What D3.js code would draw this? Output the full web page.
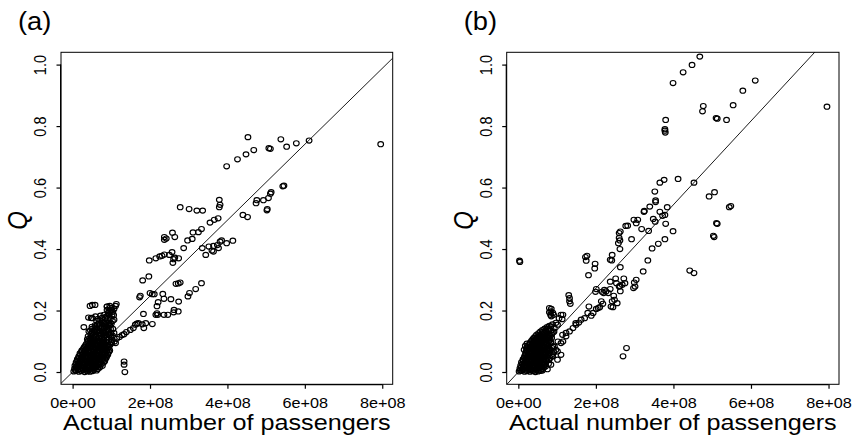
<!DOCTYPE html>
<html>
<head>
<meta charset="utf-8">
<script src="https://cdn.jsdelivr.net/npm/d3@7"></script>
<style>
  html, body { margin: 0; padding: 0; background: #fff; }
  svg { display: block; }
  text { font-family: "Liberation Sans", Arial, Helvetica, sans-serif; fill: #000; }
</style>
</head>
<body>
<svg id="chart" width="853" height="447"></svg>
<script>
// ---------------------------------------------------------------
// Data: each point is [actual passengers (millions), Q]
// ---------------------------------------------------------------
const panelLabels = ["(a)", "(b)"];
const xTitle = "Actual number of passengers";
const yTitle = "Q";

const xTicks = [0, 2e8, 4e8, 6e8, 8e8];
const xTickLabels = ["0e+00", "2e+08", "4e+08", "6e+08", "8e+08"];
const yTicks = [0, 0.2, 0.4, 0.6, 0.8, 1.0];
const yTickLabels = ["0.0", "0.2", "0.4", "0.6", "0.8", "1.0"];

// axis limits shared by both panels
const xLimits = [-3.0e7, 8.27e8];
const yLimits = [-0.04, 1.04];

// slope of the reference line Q = slope * passengers, per panel
const fitSlopes = [1.2346e-9, 1.3607e-9];

// panel (a): larger airports
const pointsA = [
  [453,0.764],[398,0.669],[426,0.692],[448,0.708],[468,0.722],[507,0.728],[511,0.726],[538,0.757],
  [553,0.733],[578,0.744],[611,0.753],[796,0.741],
  [546,0.606],[543,0.604],[513,0.585],[511,0.580],[506,0.566],[493,0.559],[476,0.559],[474,0.549],
  [503,0.530],[502,0.526],[440,0.511],[452,0.504],
  [379,0.560],[381,0.544],[379,0.536],[376,0.500],[366,0.495],[355,0.486],[333,0.465],[325,0.455],
  [311,0.454],[278,0.536],[301,0.530],[321,0.525],[336,0.525],
  [309,0.433],[297,0.428],[287,0.403],[335,0.403],[344,0.381],[352,0.408],[364,0.410],[374,0.413],
  [381,0.424],[385,0.428],[398,0.419],[414,0.427],[377,0.403],[360,0.395],[364,0.392],
  [258,0.453],[237,0.439],[242,0.434],[237,0.430],[264,0.439],
  [257,0.390],[250,0.381],[237,0.382],[231,0.378],[225,0.376],[261,0.367],[264,0.372],[259,0.355],
  [274,0.370],[215,0.370],[198,0.363],
  [197,0.311],[181,0.298],[175,0.248],[173,0.243],[200,0.257],[206,0.253],[211,0.253],[233,0.254],
  [273,0.288],[278,0.291],[267,0.287],[333,0.289],[318,0.270],[302,0.257],[298,0.246],
  [236,0.238],[254,0.237],[221,0.227],[218,0.214],[246,0.186],[236,0.186],[274,0.229],[262,0.202],
  [261,0.194],[273,0.197],
  [220,0.186],[215,0.186],[218,0.191],[206,0.156],[183,0.189],[184,0.143],[189,0.159],[180,0.155],
  [166,0.157],[157,0.143],[149,0.137],[162,0.154],[170,0.159],
  [139,0.130],[133,0.123],[128,0.120],[121,0.114],[114,0.108],[108,0.099],[101,0.094],[97,0.089],
  [133,0.034],[133,0.024],[135,0.000],
  [113,0.221],[100,0.202],[106,0.185],[89,0.213],[97,0.209]
];

// panel (a): small airports, crowded near the origin
const clusterA = [
  [3,0.002],[9,0.004],[16,0.001],[23,0.003],[31,0.000],[38,0.002],[45,0.001],[52,0.003],
  [7,0.006],[14,0.007],[20,0.005],[27,0.007],[35,0.006],[42,0.007],[49,0.005],[56,0.007],[62,0.005],
  [5,0.011],[12,0.013],[19,0.010],[27,0.012],[34,0.010],[42,0.012],[49,0.011],[57,0.013],[65,0.010],
  [9,0.016],[16,0.017],[24,0.015],[31,0.017],[39,0.016],[46,0.015],[54,0.017],[62,0.016],[70,0.015],
  [6,0.021],[14,0.022],[21,0.020],[29,0.023],[37,0.021],[45,0.020],[53,0.022],[61,0.021],[69,0.023],[77,0.020],
  [10,0.026],[18,0.027],[26,0.025],[34,0.026],[42,0.027],[50,0.025],[58,0.026],[66,0.027],[74,0.025],
  [9,0.031],[16,0.030],[24,0.032],[32,0.031],[40,0.030],[48,0.033],[56,0.031],[64,0.030],[72,0.032],[80,0.031],
  [13,0.036],[21,0.035],[29,0.037],[37,0.036],[45,0.035],[53,0.037],[61,0.036],[69,0.035],[77,0.037],[83,0.035],
  [12,0.041],[20,0.040],[28,0.042],[36,0.041],[44,0.040],[52,0.043],[60,0.041],[68,0.040],[76,0.042],[84,0.041],
  [15,0.046],[23,0.045],[31,0.047],[39,0.046],[47,0.045],[55,0.047],[63,0.046],[71,0.045],[79,0.047],[87,0.046],
  [16,0.051],[24,0.050],[32,0.052],[40,0.051],[48,0.050],[56,0.052],[64,0.051],[72,0.050],[80,0.053],[88,0.051],
  [20,0.056],[28,0.055],[36,0.057],[44,0.056],[52,0.055],[60,0.057],[68,0.056],[76,0.055],[84,0.057],[91,0.056],
  [19,0.061],[27,0.060],[35,0.062],[43,0.061],[51,0.060],[59,0.062],[67,0.061],[75,0.060],[83,0.062],[91,0.061],
  [23,0.066],[31,0.065],[39,0.067],[47,0.066],[55,0.065],[63,0.067],[71,0.066],[79,0.065],[87,0.067],[94,0.066],
  [24,0.070],[32,0.072],[40,0.071],[48,0.070],[56,0.072],[64,0.071],[72,0.070],[80,0.072],[88,0.071],[96,0.070],
  [28,0.076],[36,0.075],[44,0.077],[52,0.076],[60,0.075],[68,0.077],[76,0.076],[84,0.075],[92,0.077],
  [30,0.081],[38,0.080],[46,0.082],[54,0.081],[62,0.080],[70,0.082],[78,0.081],[86,0.080],[94,0.082],
  [33,0.086],[41,0.085],[49,0.087],[57,0.086],[65,0.085],[73,0.087],[81,0.086],[89,0.085],
  [35,0.091],[43,0.090],[51,0.092],[59,0.091],[67,0.090],[75,0.092],[83,0.091],[91,0.090],
  [39,0.096],[47,0.095],[55,0.097],[63,0.096],[71,0.095],[79,0.097],[87,0.096],
  [40,0.101],[48,0.100],[56,0.102],[64,0.101],[72,0.100],[80,0.102],
  [45,0.215],[51,0.218],[58,0.218],[89,0.213],[96,0.215],[102,0.209],[111,0.215],
  [89,0.202],[94,0.197],[100,0.202],[104,0.196],[92,0.192],[98,0.196],[107,0.205],
  [41,0.177],[48,0.176],[51,0.175],[59,0.181],[72,0.183],[81,0.186],[85,0.175],[94,0.186],[98,0.175],
  [102,0.186],[107,0.170],[66,0.173],[76,0.176],[90,0.171],[103,0.166],[88,0.181],
  [62,0.166],[70,0.168],[78,0.165],[85,0.164],[94,0.159],[100,0.157],
  [64,0.155],[76,0.154],[84,0.156],[92,0.152],[58,0.152],[68,0.158],[80,0.160],[88,0.160],[96,0.153],
  [29,0.146],[50,0.147],[58,0.145],[68,0.148],[81,0.143],[89,0.137],[98,0.140],
  [50,0.140],[62,0.141],[72,0.142],[76,0.147],[86,0.147],[93,0.145],[104,0.140],
  [46,0.135],[55,0.134],[64,0.136],[72,0.133],[80,0.135],[94,0.132],
  [42,0.132],[51,0.127],[59,0.121],[67,0.126],[75,0.124],[83,0.125],[91,0.123],[107,0.127],
  [47,0.124],[55,0.129],[63,0.131],[71,0.128],[79,0.129],[87,0.130],[99,0.126],
  [40,0.116],[48,0.115],[55,0.110],[64,0.105],[72,0.099],[68,0.116],[76,0.110],[80,0.114],[88,0.113],[98,0.116],
  [44,0.110],[52,0.112],[60,0.114],[84,0.119],[95,0.121],[103,0.118],
  [38,0.106],[46,0.104],[56,0.106],[80,0.105],[88,0.104],[102,0.105],
  [51,0.094],[81,0.089],[111,0.094],[100,0.098]
];

// panel (b): larger airports
const pointsB = [
  [468,1.026],[448,0.999],[425,0.975],[399,0.940],[611,0.948],[579,0.915],[554,0.868],[537,0.820],
  [510,0.826],[513,0.824],[477,0.865],[475,0.848],[796,0.863],
  [380,0.820],[378,0.790],[379,0.779],[378,0.785],
  [412,0.628],[453,0.616],[376,0.625],[365,0.616],[492,0.571],[506,0.585],[544,0.536],[548,0.540],
  [511,0.484],[513,0.482],[503,0.443],[505,0.439],[442,0.330],[453,0.322],[399,0.458],
  [384,0.536],[378,0.511],[372,0.508],[365,0.521],[380,0.482],[378,0.432],[361,0.417],[345,0.402],[334,0.363],
  [352,0.587],[354,0.558],[354,0.553],[339,0.538],[325,0.524],[324,0.521],[308,0.495],[298,0.495],
  [304,0.484],[318,0.465],[336,0.459],[348,0.498],[353,0.489],[282,0.476],[277,0.475],[263,0.457],[260,0.452],
  [292,0.432],[262,0.428],[260,0.436],[258,0.419],[262,0.400],[242,0.381],[237,0.365],[241,0.363],[263,0.341],
  [175,0.362],[177,0.378],[173,0.374],[198,0.352],[197,0.337],[181,0.315],
  [322,0.327],[304,0.300],[299,0.291],[301,0.278],[297,0.273],[272,0.304],[251,0.304],[253,0.289],[237,0.294],
  [275,0.289],[268,0.284],[260,0.278],
  [237,0.270],[246,0.248],[232,0.257],[263,0.263],[262,0.280],[222,0.267],[226,0.262],
  [201,0.270],[199,0.261],[216,0.261],[220,0.257],
  [130,0.250],[132,0.240],[132,0.230],[134,0.222],
  [242,0.230],[239,0.213],[244,0.211],[255,0.224],[248,0.235],
  [214,0.230],[218,0.222],[210,0.211],[206,0.208],[182,0.213],[201,0.205],[193,0.192],[188,0.183],
  [171,0.175],[162,0.170],[156,0.161],[149,0.154],[141,0.143],[132,0.132],[123,0.116],[115,0.099],
  [148,0.159],[179,0.192],[114,0.121],
  [123,0.127],[102,0.099],[110,0.094],[89,0.083],[97,0.072],
  [115,0.186],[113,0.172],[91,0.186],[85,0.181],[80,0.194],[85,0.205],
  [80,0.208],[84,0.197],[83,0.186],[89,0.192],[110,0.186],[105,0.175],
  [270,0.051],[279,0.078],[3,0.362],[4,0.358]
];

// panel (b): small airports, crowded near the origin
const clusterB = [
  [2,0.002],[9,0.004],[16,0.001],[23,0.003],[30,0.001],[37,0.003],[44,0.000],[51,0.002],[58,0.004],
  [5,0.006],[12,0.007],[19,0.005],[26,0.007],[33,0.006],[40,0.005],[47,0.007],[54,0.006],[62,0.005],
  [4,0.012],[11,0.010],[18,0.013],[26,0.011],[33,0.010],[40,0.012],[48,0.011],[55,0.013],[62,0.010],[75,0.009],
  [8,0.016],[15,0.017],[22,0.015],[30,0.017],[37,0.016],[44,0.015],[51,0.017],[59,0.016],[66,0.015],[70,0.018],
  [6,0.021],[13,0.022],[21,0.020],[28,0.023],[36,0.021],[43,0.020],[51,0.022],[58,0.021],[66,0.023],
  [10,0.026],[17,0.027],[25,0.025],[32,0.026],[40,0.027],[47,0.025],[55,0.026],[62,0.027],[70,0.025],[78,0.027],
  [8,0.031],[16,0.030],[23,0.032],[31,0.031],[38,0.030],[46,0.033],[53,0.031],[61,0.030],[68,0.032],[84,0.024],
  [12,0.036],[20,0.035],[27,0.037],[35,0.036],[42,0.035],[50,0.037],[57,0.036],[65,0.035],[72,0.037],
  [12,0.041],[19,0.040],[27,0.042],[34,0.041],[42,0.040],[49,0.043],[57,0.041],[64,0.040],[72,0.042],[79,0.040],
  [15,0.046],[22,0.045],[30,0.047],[37,0.046],[45,0.045],[52,0.047],[60,0.046],[67,0.045],[75,0.047],[82,0.046],
  [16,0.051],[23,0.050],[31,0.052],[38,0.051],[46,0.050],[53,0.052],[61,0.051],[68,0.050],[76,0.053],[88,0.051],
  [18,0.056],[25,0.055],[33,0.057],[40,0.056],[48,0.055],[55,0.057],[63,0.056],[70,0.055],[78,0.057],[86,0.056],
  [19,0.061],[26,0.060],[34,0.062],[41,0.061],[49,0.060],[56,0.062],[64,0.061],[71,0.060],[79,0.062],
  [20,0.066],[27,0.065],[35,0.067],[42,0.066],[50,0.065],[57,0.067],[65,0.066],[72,0.065],[80,0.067],[92,0.064],
  [15,0.072],[22,0.071],[29,0.070],[37,0.072],[44,0.071],[52,0.070],[59,0.072],[67,0.071],[74,0.070],[82,0.072],[101,0.067],
  [21,0.077],[28,0.076],[35,0.075],[43,0.077],[50,0.076],[58,0.075],[65,0.077],[73,0.076],[80,0.075],[87,0.078],
  [18,0.085],[24,0.081],[31,0.080],[39,0.082],[46,0.081],[54,0.080],[61,0.082],[69,0.081],[76,0.080],[93,0.083],
  [26,0.087],[33,0.086],[40,0.085],[48,0.087],[55,0.086],[63,0.085],[70,0.087],[78,0.086],
  [22,0.092],[29,0.091],[36,0.090],[44,0.092],[51,0.091],[59,0.090],[66,0.092],[74,0.091],[84,0.094],
  [31,0.096],[38,0.095],[45,0.097],[53,0.096],[60,0.095],[68,0.097],[75,0.096],[83,0.098],
  [34,0.101],[41,0.100],[49,0.102],[56,0.101],[64,0.100],[71,0.102],[79,0.101],
  [37,0.106],[44,0.105],[52,0.107],[59,0.106],[67,0.105],[74,0.107],[82,0.106],
  [40,0.111],[47,0.110],[55,0.112],[62,0.111],[70,0.110],[78,0.112],[86,0.111],
  [44,0.116],[51,0.115],[58,0.117],[66,0.116],[74,0.115],[82,0.117],
  [47,0.121],[54,0.120],[62,0.122],[70,0.121],[78,0.120],[86,0.122],
  [52,0.126],[60,0.125],[67,0.127],[75,0.126],[88,0.127],
  [57,0.131],[64,0.130],[72,0.132],[84,0.135],[92,0.131],
  [62,0.136],[70,0.135],[80,0.138],
  [68,0.141],[76,0.140],[93,0.143],[74,0.146],[84,0.148],
  [80,0.150],[88,0.155],[97,0.160],[101,0.154],
  [110,0.056],[101,0.040],[88,0.051],[79,0.040]
];

// ---------------------------------------------------------------
// Drawing
// ---------------------------------------------------------------
const MILLION = 1e6;
const TEXT_STRETCH = 1.12;      // glyphs are set slightly wide
const FONT = '"Liberation Sans", Arial, Helvetica, sans-serif';

const plotTop = 52.3, plotBottom = 384.3;
const panels = [
  { label: panelLabels[0], points: pointsA.concat(clusterA), slope: fitSlopes[0], left: 61,    right: 392.7 },
  { label: panelLabels[1], points: pointsB.concat(clusterB), slope: fitSlopes[1], left: 506.7, right: 839   }
];

const svg = d3.select("#chart");
const defs = svg.append("defs");

panels.forEach((p, i) => {
  const x = d3.scaleLinear().domain(xLimits).range([p.left, p.right]);
  const y = d3.scaleLinear().domain(yLimits).range([plotBottom, plotTop]);
  const g = svg.append("g");

  const clipId = "plot-clip-" + i;
  defs.append("clipPath").attr("id", clipId)
    .append("rect")
    .attr("x", p.left).attr("y", plotTop)
    .attr("width", p.right - p.left).attr("height", plotBottom - plotTop);

  // reference line through the origin
  g.append("path")
    .datum(xLimits)
    .attr("clip-path", `url(#${clipId})`)
    .attr("d", d3.line().x(d => x(d)).y(d => y(d * p.slope)))
    .attr("fill", "none")
    .attr("stroke", "#000")
    .attr("stroke-width", 0.9);

  // open-circle markers
  g.append("g")
    .attr("clip-path", `url(#${clipId})`)
    .selectAll("ellipse")
    .data(p.points)
    .join("ellipse")
    .attr("cx", d => x(d[0] * MILLION))
    .attr("cy", d => y(d[1]))
    .attr("rx", 2.85)
    .attr("ry", 2.55)
    .attr("fill", "none")
    .attr("stroke", "#000")
    .attr("stroke-width", 1.15);

  // plot frame
  g.append("rect")
    .attr("x", p.left).attr("y", plotTop)
    .attr("width", p.right - p.left).attr("height", plotBottom - plotTop)
    .attr("fill", "none")
    .attr("stroke", "#000")
    .attr("stroke-width", 1);

  // bottom axis
  const xAxis = g.append("g")
    .attr("transform", `translate(0,${plotBottom})`)
    .call(d3.axisBottom(x)
      .tickValues(xTicks)
      .tickFormat((d, k) => xTickLabels[k])
      .tickSize(4.5)
      .tickSizeOuter(0));
  xAxis.attr("font-family", null).attr("font-size", null);
  xAxis.select(".domain").remove();
  xAxis.selectAll(".tick line").attr("stroke-width", 1.2);
  xAxis.selectAll(".tick text")
    .attr("y", 0).attr("dy", null)
    .style("font-family", FONT)
    .style("font-size", "14.5px")
    .attr("transform", `translate(0,23.3) scale(${TEXT_STRETCH},1)`);
  g.append("line")
    .attr("x1", x(xTicks[0])).attr("x2", x(xTicks[xTicks.length - 1]))
    .attr("y1", plotBottom + 0.4).attr("y2", plotBottom + 0.4)
    .attr("stroke", "#000").attr("stroke-width", 1.2);

  // left axis
  const yAxis = g.append("g")
    .attr("transform", `translate(${p.left},0)`)
    .call(d3.axisLeft(y)
      .tickValues(yTicks)
      .tickFormat((d, k) => yTickLabels[k])
      .tickSize(4.5)
      .tickSizeOuter(0));
  yAxis.attr("font-family", null).attr("font-size", null);
  yAxis.select(".domain").remove();
  yAxis.selectAll(".tick line").attr("stroke-width", 1.2);
  yAxis.selectAll(".tick text")
    .attr("x", 0).attr("dy", null)
    .attr("text-anchor", "middle")
    .style("font-family", FONT)
    .style("font-size", "14.5px")
    .attr("transform", `translate(-15,0) scale(${TEXT_STRETCH},1) rotate(-90)`);
  g.append("line")
    .attr("x1", p.left - 0.4).attr("x2", p.left - 0.4)
    .attr("y1", y(yTicks[0])).attr("y2", y(yTicks[yTicks.length - 1]))
    .attr("stroke", "#000").attr("stroke-width", 1.2);

  // axis titles
  const cx = (p.left + p.right) / 2;
  const cy = (plotTop + plotBottom) / 2;
  g.append("text")
    .attr("transform", `translate(${cx},430) scale(${TEXT_STRETCH},1)`)
    .attr("text-anchor", "middle")
    .style("font-size", "22.5px")
    .text(xTitle);
  g.append("text")
    .attr("transform", `translate(${p.left - 34},${cy + 2}) scale(${TEXT_STRETCH},1) rotate(-90)`)
    .attr("text-anchor", "middle")
    .style("font-size", "24px")
    .style("font-style", "italic")
    .text(yTitle);

  // panel tag
  g.append("text")
    .attr("transform", `translate(${p.left - 43},29.5) scale(1.05,1)`)
    .attr("text-anchor", "start")
    .style("font-size", "26px")
    .text(p.label);
});
</script>
</body>
</html>
